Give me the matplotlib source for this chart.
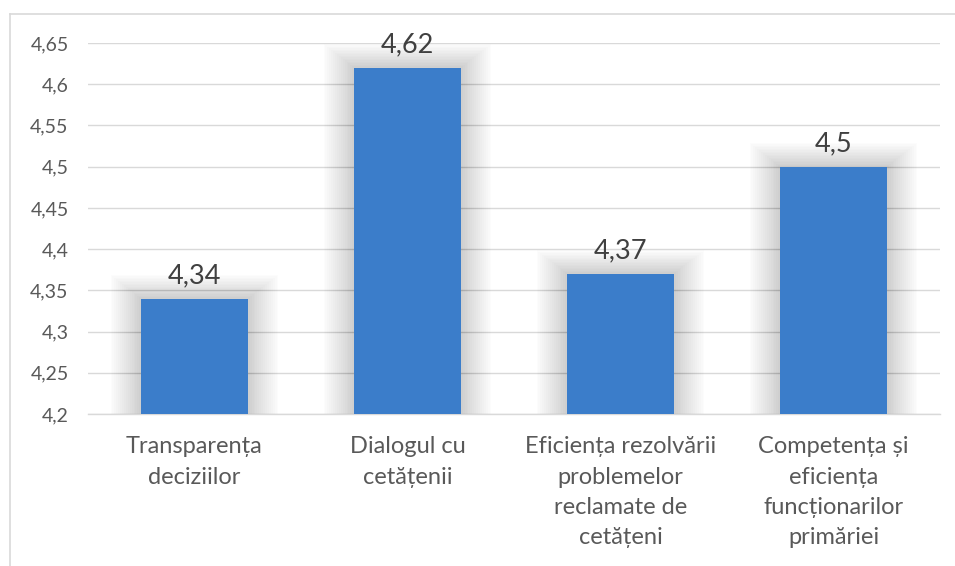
import matplotlib
matplotlib.use("Agg")
import matplotlib.pyplot as plt
from matplotlib.lines import Line2D

categories = ["Transparența\ndeciziilor", "Dialogul cu\ncetățenii",
              "Eficiența rezolvării\nproblemelor\nreclamate de\ncetățeni",
              "Competența și\neficiența\nfuncționarilor\nprimăriei"]
values = [4.34, 4.62, 4.37, 4.5]
value_labels = ["4,34", "4,62", "4,37", "4,5"]
yticks = [4.2, 4.25, 4.3, 4.35, 4.4, 4.45, 4.5, 4.55, 4.6, 4.65]
ytick_labels = ["4,2", "4,25", "4,3", "4,35", "4,4", "4,45", "4,5", "4,55", "4,6", "4,65"]

plt.rcParams['font.family'] = ['Lato', 'Open Sans', 'DejaVu Sans']
txt = "#595959"
grid = "#d9d9d9"
bar_color = "#3B7DCA"

fig = plt.figure(figsize=(9.55, 5.66), dpi=100)
ax = fig.add_axes([88/955, 1-414/566, 852/955, (414-43)/566])

x = list(range(len(values)))
ymin = 4.2
# soft shadow / glow behind the bars
n = 16
for i in range(n):
    w = 0.5 + 0.018 * (i + 1)
    ax.bar(x, [v - ymin + 0.0018 * (i + 1) for v in values], bottom=ymin, width=w,
           color="#000000", alpha=0.012, zorder=2, linewidth=0)
ax.bar(x, [v - ymin for v in values], bottom=ymin, width=0.5, color=bar_color, zorder=3, linewidth=0)

for xi, v, lab in zip(x, values, value_labels):
    ax.text(xi, v + 0.019, lab, ha="center", va="baseline", fontsize=19.5, color="#404040", zorder=4)

ax.set_ylim(4.2, 4.65)
ax.set_xlim(-0.5, 3.5)
ax.set_yticks(yticks)
ax.set_yticklabels(ytick_labels, fontsize=14, color=txt)
ax.set_xticks(x)
ax.set_xticklabels(categories, fontsize=17, color=txt, linespacing=1.55)
ax.tick_params(axis="both", length=0)
ax.tick_params(axis="y", pad=14)
ax.tick_params(axis="x", pad=16)
ax.yaxis.grid(True, color=grid, linewidth=1, zorder=0)
ax.set_axisbelow(True)
for s in ["top", "right", "left"]:
    ax.spines[s].set_visible(False)
ax.spines["bottom"].set_color(grid)
ax.spines["bottom"].set_linewidth(1)

# outer chart frame (top and left visible)
fig.add_artist(Line2D([10/955, 1.0], [1-14/566, 1-14/566], color=grid, linewidth=1.2))
fig.add_artist(Line2D([10/955, 10/955], [0.0, 1-14/566], color=grid, linewidth=1.2))

fig.savefig("out.png", dpi=100, facecolor="white")
